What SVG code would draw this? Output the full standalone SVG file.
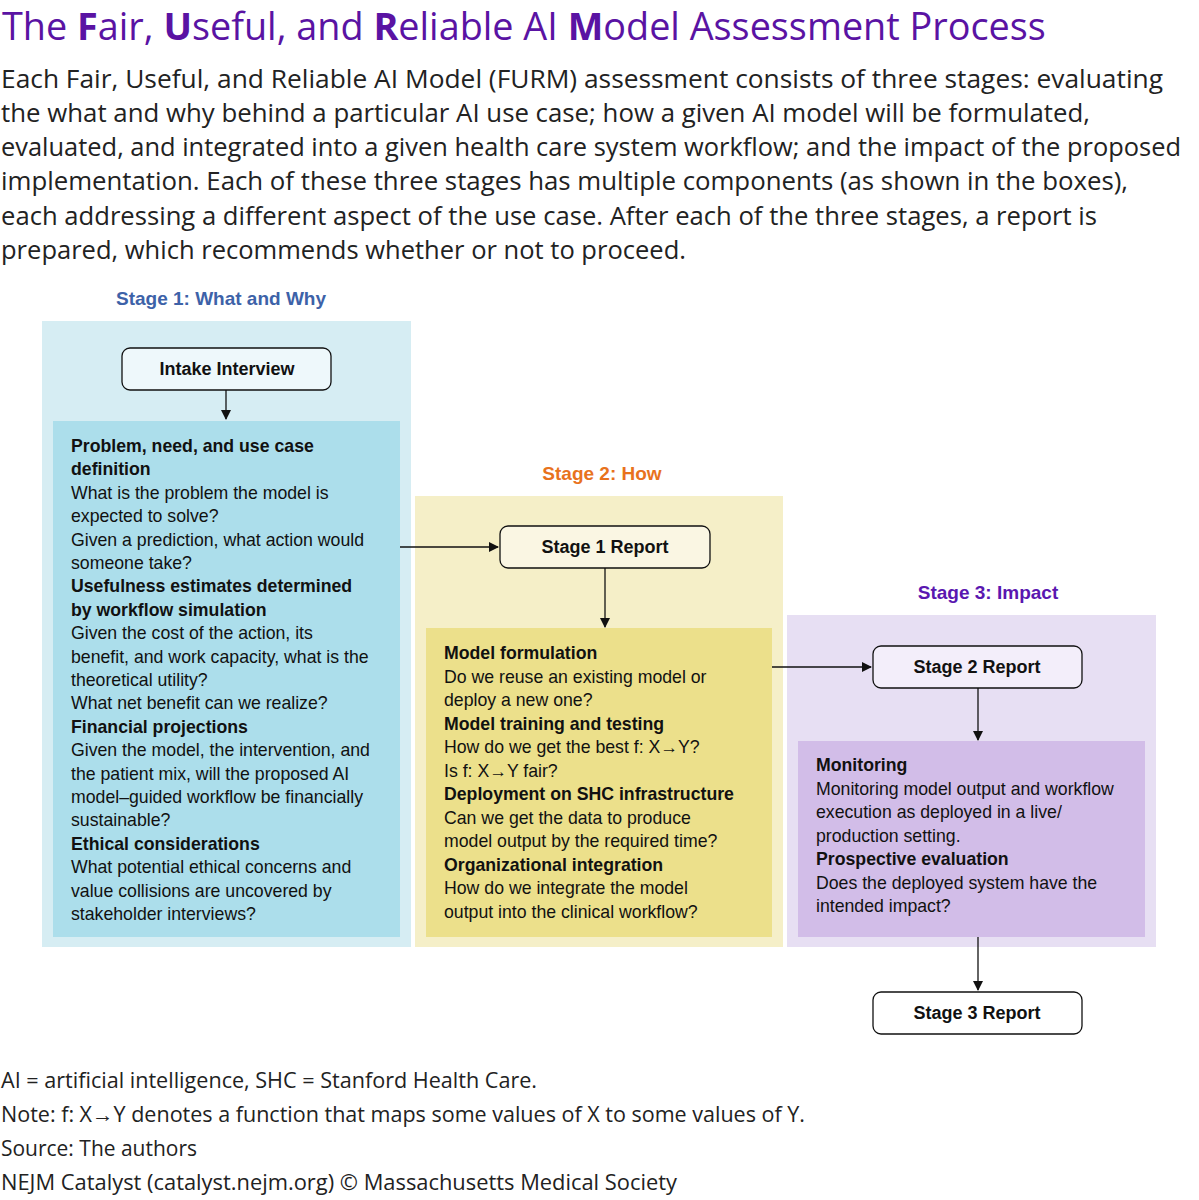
<svg xmlns="http://www.w3.org/2000/svg" width="1199" height="1200" viewBox="0 0 1199 1200">
<defs>
<marker id="ah" markerWidth="10" markerHeight="10" refX="9" refY="5" orient="auto" markerUnits="userSpaceOnUse">
<path d="M0,0 L10,5 L0,10 z" fill="#111"/>
</marker>
<style>
.hd{font-family:"Open Sans","Liberation Sans",sans-serif;}
.para{font-family:"Open Sans","Liberation Sans",sans-serif;font-size:26px;fill:#222;}
.foot{font-family:"Open Sans","Liberation Sans",sans-serif;font-size:22px;fill:#222;}
.stg{font-family:"Liberation Sans",sans-serif;font-size:19px;font-weight:bold;text-anchor:middle;}
.bt{font-family:"Liberation Sans",sans-serif;font-size:17.7px;fill:#111;}
.b{font-weight:bold;}
.rep{fill:#fff;stroke:#111;stroke-width:1.3;}
.rt{font-family:"Liberation Sans",sans-serif;font-size:18px;font-weight:bold;fill:#111;text-anchor:middle;}
.conn{stroke:#111;stroke-width:1.3;fill:none;marker-end:url(#ah);}
</style>
</defs>
<rect width="1199" height="1200" fill="#fff"/>
<text class="hd" x="2" y="40" font-size="37.8" fill="#5a13a3">The <tspan font-weight="bold">F</tspan>air, <tspan font-weight="bold">U</tspan>seful, and <tspan font-weight="bold">R</tspan>eliable AI <tspan font-weight="bold">M</tspan>odel Assessment Process</text>
<g id="intro">
<text class="para" x="1" y="88" textLength="1162" lengthAdjust="spacingAndGlyphs">Each Fair, Useful, and Reliable AI Model (FURM) assessment consists of three stages: evaluating</text>
<text class="para" x="1" y="122" textLength="1089" lengthAdjust="spacingAndGlyphs">the what and why behind a particular AI use case; how a given AI model will be formulated,</text>
<text class="para" x="1" y="156" font-size="25.5" textLength="1180" lengthAdjust="spacingAndGlyphs">evaluated, and integrated into a given health care system workflow; and the impact of the proposed</text>
<text class="para" x="1" y="190" textLength="1127" lengthAdjust="spacingAndGlyphs">implementation. Each of these three stages has multiple components (as shown in the boxes),</text>
<text class="para" x="1" y="225" textLength="1096" lengthAdjust="spacingAndGlyphs">each addressing a different aspect of the use case. After each of the three stages, a report is</text>
<text class="para" x="1" y="259" textLength="685" lengthAdjust="spacingAndGlyphs">prepared, which recommends whether or not to proceed.</text>
</g>
<g id="stage1">
<rect x="42" y="321" width="369" height="626" fill="#d6edf3"/>
<text class="stg" x="221" y="305" fill="#3d62a8">Stage 1: What and Why</text>
</g>
<g id="stage2">
<rect x="415" y="496" width="368" height="451" fill="#f5efc8"/>
<text class="stg" x="602" y="480" fill="#e8721d">Stage 2: How</text>
</g>
<g id="stage3">
<rect x="787" y="615" width="369" height="332" fill="#e7dff3"/>
<text class="stg" x="988" y="599" fill="#5a17b0">Stage 3: Impact</text>
</g>
<g id="intake">
<rect class="rep" x="122" y="348" width="209" height="42" rx="8" style="fill:#eef8fb"/>
<text class="rt" x="227" y="375">Intake Interview</text>
</g>
<g id="s1box">
<rect x="53" y="421" width="347" height="516" fill="#acdeeb"/>
<text class="bt" x="71" y="452">
<tspan class="b" x="71" y="452">Problem, need, and use case</tspan>
<tspan class="b" x="71" y="475.4">definition</tspan>
<tspan x="71" y="498.8">What is the problem the model is</tspan>
<tspan x="71" y="522.2">expected to solve?</tspan>
<tspan x="71" y="545.6">Given a prediction, what action would</tspan>
<tspan x="71" y="569">someone take?</tspan>
<tspan class="b" x="71" y="592.4">Usefulness estimates determined</tspan>
<tspan class="b" x="71" y="615.8">by workflow simulation</tspan>
<tspan x="71" y="639.2">Given the cost of the action, its</tspan>
<tspan x="71" y="662.6">benefit, and work capacity, what is the</tspan>
<tspan x="71" y="686">theoretical utility?</tspan>
<tspan x="71" y="709.4">What net benefit can we realize?</tspan>
<tspan class="b" x="71" y="732.8">Financial projections</tspan>
<tspan x="71" y="756.2">Given the model, the intervention, and</tspan>
<tspan x="71" y="779.6">the patient mix, will the proposed AI</tspan>
<tspan x="71" y="803">model–guided workflow be financially</tspan>
<tspan x="71" y="826.4">sustainable?</tspan>
<tspan class="b" x="71" y="849.8">Ethical considerations</tspan>
<tspan x="71" y="873.2">What potential ethical concerns and</tspan>
<tspan x="71" y="896.6">value collisions are uncovered by</tspan>
<tspan x="71" y="920">stakeholder interviews?</tspan>
</text>
</g>
<g id="report1">
<rect class="rep" x="500" y="526" width="210" height="42" rx="8" style="fill:#faf6e3"/>
<text class="rt" x="605" y="553">Stage 1 Report</text>
</g>
<g id="s2box">
<rect x="426" y="628" width="346" height="309" fill="#ece08b"/>
<text class="bt" x="444" y="659">
<tspan class="b" x="444" y="659">Model formulation</tspan>
<tspan x="444" y="682.5">Do we reuse an existing model or</tspan>
<tspan x="444" y="706">deploy a new one?</tspan>
<tspan class="b" x="444" y="729.5">Model training and testing</tspan>
<tspan x="444" y="753">How do we get the best f: X→Y?</tspan>
<tspan x="444" y="776.5">Is f: X→Y fair?</tspan>
<tspan class="b" x="444" y="800">Deployment on SHC infrastructure</tspan>
<tspan x="444" y="823.5">Can we get the data to produce</tspan>
<tspan x="444" y="847">model output by the required time?</tspan>
<tspan class="b" x="444" y="870.5">Organizational integration</tspan>
<tspan x="444" y="894">How do we integrate the model</tspan>
<tspan x="444" y="917.5">output into the clinical workflow?</tspan>
</text>
</g>
<g id="report2">
<rect class="rep" x="873" y="646" width="209" height="42" rx="8" style="fill:#f3eefa"/>
<text class="rt" x="977" y="673">Stage 2 Report</text>
</g>
<g id="s3box">
<rect x="798" y="741" width="347" height="196" fill="#d2bde8"/>
<text class="bt" x="816" y="771">
<tspan class="b" x="816" y="771">Monitoring</tspan>
<tspan x="816" y="794.5">Monitoring model output and workflow</tspan>
<tspan x="816" y="818">execution as deployed in a live/</tspan>
<tspan x="816" y="841.5">production setting.</tspan>
<tspan class="b" x="816" y="865">Prospective evaluation</tspan>
<tspan x="816" y="888.5">Does the deployed system have the</tspan>
<tspan x="816" y="912">intended impact?</tspan>
</text>
</g>
<g id="report3">
<rect class="rep" x="873" y="992" width="209" height="42" rx="8"/>
<text class="rt" x="977" y="1019">Stage 3 Report</text>
</g>
<g id="connectors">
<line class="conn" x1="226" y1="390" x2="226" y2="419"/>
<line class="conn" x1="400" y1="547" x2="498" y2="547"/>
<line class="conn" x1="605" y1="568" x2="605" y2="627"/>
<line class="conn" x1="772" y1="667" x2="871" y2="667"/>
<line class="conn" x1="978" y1="688" x2="978" y2="740"/>
<line class="conn" x1="978" y1="937" x2="978" y2="990"/>
</g>
<g id="footer">
<text class="foot" x="1" y="1088" textLength="536" lengthAdjust="spacingAndGlyphs">AI = artificial intelligence, SHC = Stanford Health Care.</text>
<text class="foot" x="1" y="1122" textLength="804" lengthAdjust="spacingAndGlyphs">Note: f: X→Y denotes a function that maps some values of X to some values of Y.</text>
<text class="foot" x="1" y="1156" textLength="196" lengthAdjust="spacingAndGlyphs">Source: The authors</text>
<text class="foot" x="1" y="1190" textLength="676" lengthAdjust="spacingAndGlyphs">NEJM Catalyst (catalyst.nejm.org) © Massachusetts Medical Society</text>
</g>
</svg>
